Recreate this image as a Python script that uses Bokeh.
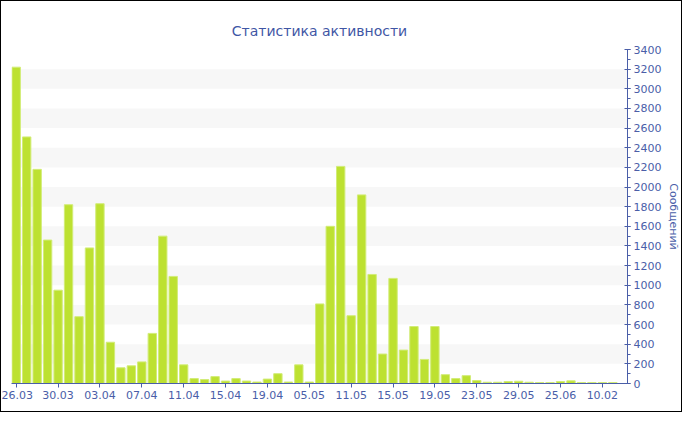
from bokeh.plotting import figure
from bokeh.models import Range1d, FixedTicker, SingleIntervalTicker, ColumnDataSource
from bokeh.embed import file_html
from bokeh.resources import INLINE

title_text = "Статистика активности"
y_label = "Сообщений"

dates = [
    "26.03", "27.03", "28.03", "29.03", "30.03", "31.03", "01.04", "02.04",
    "03.04", "04.04", "05.04", "06.04", "07.04", "08.04", "09.04", "10.04",
    "11.04", "12.04", "13.04", "14.04", "15.04", "16.04", "17.04", "18.04",
    "19.04", "21.04", "24.04", "30.04", "05.05", "07.05", "08.05", "10.05",
    "11.05", "12.05", "13.05", "14.05", "15.05", "16.05", "17.05", "18.05",
    "19.05", "20.05", "21.05", "22.05", "23.05", "24.05", "25.05", "27.05",
    "29.05", "31.05", "04.06", "12.06", "25.06", "03.07", "21.08", "15.12",
    "10.02", "14.03",
]

messages = [
    3220, 2510, 2180, 1460, 950, 1820, 680, 1380,
    1830, 420, 160, 180, 220, 510, 1500, 1090,
    190, 50, 40, 70, 25, 50, 25, 15,
    45, 100, 15, 190, 15, 810, 1600, 2210,
    690, 1920, 1110, 300, 1070, 340, 580, 245,
    580, 90, 50, 80, 30, 13, 13, 20,
    23, 13, 10, 10, 20, 27, 10, 10,
    10, 10,
]

label_step = 4

idx = list(range(len(dates)))
src = ColumnDataSource(data=dict(x=idx, top=messages, date=dates))

BLUE = "#4a5ea8"
FONT = "DejaVu Sans"

p = figure(
    width=682, height=412,
    output_backend="svg", toolbar_location=None,
    x_range=Range1d(-0.45, len(dates) + 0.4),
    y_range=Range1d(0, 3400),
    y_axis_location="right",
    min_border_left=10, min_border_top=48, min_border_bottom=30, min_border_right=4,
    styles={"border": "1px solid #000000"},
)
p.outline_line_color = None
p.background_fill_color = "white"
p.border_fill_color = "white"

p.title.text = title_text
p.title.align = "center"
p.title.text_color = "#3f56a5"
p.title.text_font = FONT
p.title.text_font_size = "14px"
p.title.text_font_style = "normal"
p.title.standoff = 22

p.vbar(x="x", top="top", width=0.8, source=src,
       fill_color="#bde131", line_color="#d2ec78", line_width=1)

# x axis
xa = p.xaxis[0]
xa.ticker = FixedTicker(ticks=idx[::label_step])
xa.major_label_overrides = {i: dates[i] for i in idx[::label_step]}
xa.axis_line_color = BLUE
xa.major_tick_line_color = BLUE
xa.major_tick_in = 0
xa.major_tick_out = 4
xa.minor_tick_line_color = None
xa.major_label_text_color = BLUE
xa.major_label_text_font = FONT
xa.major_label_text_font_size = "11px"
xa.major_label_standoff = 3

# y axis
ya = p.yaxis[0]
yt = SingleIntervalTicker(interval=200, num_minor_ticks=2)
ya.ticker = yt
ya.axis_line_color = BLUE
ya.major_tick_line_color = BLUE
ya.minor_tick_line_color = BLUE
ya.major_tick_in = 3
ya.major_tick_out = 3
ya.minor_tick_in = 0
ya.minor_tick_out = 3
ya.major_label_text_color = BLUE
ya.major_label_text_font = FONT
ya.major_label_text_font_size = "11px"
ya.major_label_standoff = 3
ya.axis_label = y_label
ya.axis_label_text_color = BLUE
ya.axis_label_text_font = FONT
ya.axis_label_text_font_size = "11px"
ya.axis_label_text_font_style = "normal"
ya.axis_label_standoff = 3

p.xgrid.grid_line_color = None
p.ygrid.ticker = yt
p.ygrid.grid_line_color = None
p.ygrid.band_fill_color = "#f7f7f7"
p.ygrid.band_fill_alpha = 1.0

open("out.html", "w").write(file_html(p, INLINE))
